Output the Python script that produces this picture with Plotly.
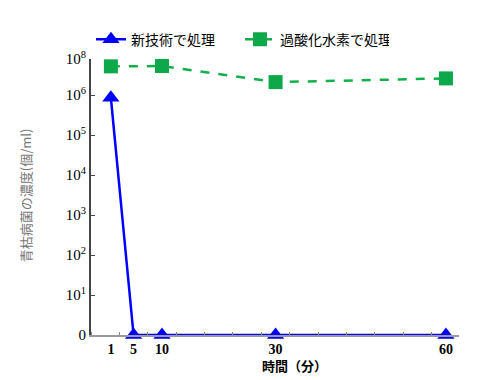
import math
import plotly.graph_objects as go

# Data
times_new = [1, 5, 10, 30, 60]
conc_new = [8.5e5, 0, 0, 0, 0]          # 新技術で処理 (個/ml)
times_h2o2 = [1, 10, 30, 60]
conc_h2o2 = [5.2e6, 5.3e6, 2.1e6, 2.6e6]  # 過酸化水素で処理 (個/ml)

x_tick_vals = [1, 5, 10, 30, 60]
x_tick_text = ["<b>1</b>", "<b>5</b>", "<b>10</b>", "<b>30</b>", "<b>60</b>"]
y_tick_vals = [0, 1, 2, 3, 4, 5, 6, 6.9]
y_tick_text = ["0", "10<sup>1</sup>", "10<sup>2</sup>", "10<sup>3</sup>",
               "10<sup>4</sup>", "10<sup>5</sup>", "10<sup>6</sup>", "10<sup>8</sup>"]


def to_log(vals):
    return [math.log10(v) if v > 0 else 0 for v in vals]


jp = "Noto Sans CJK JP"
serif = "Liberation Serif"

fig = go.Figure()
fig.add_trace(go.Scatter(
    x=times_new, y=to_log(conc_new), name="新技術で処理",
    mode="lines+markers", cliponaxis=False,
    line=dict(color="#0000ff", width=2.5),
    marker=dict(symbol="triangle-up", size=15, color="#0000ff"),
))
fig.add_trace(go.Scatter(
    x=times_h2o2, y=to_log(conc_h2o2), name="過酸化水素で処理",
    mode="lines+markers", cliponaxis=False,
    line=dict(color="#12b04a", width=2.5, dash="dash"),
    marker=dict(symbol="square", size=14, color="#0ca84a"),
))

fig.update_layout(
    width=484, height=372,
    margin=dict(l=83, r=33, t=51, b=45),
    paper_bgcolor="white", plot_bgcolor="white",
    showlegend=True,
    legend=dict(orientation="h", x=0.0, xanchor="left", y=1.07, yanchor="middle",
                font=dict(family=jp, size=14, color="black"),
                itemwidth=30, entrywidth=104, entrywidthmode="pixels",
                tracegroupgap=0, bgcolor="rgba(0,0,0,0)"),
    xaxis=dict(range=[-2.5, 62.3], tickmode="array", tickvals=x_tick_vals,
               ticktext=x_tick_text, ticks="", showgrid=False, zeroline=False,
               showline=True, linecolor="#9a9a9a", linewidth=2,
               tickfont=dict(family=serif, size=14, color="black"),
               minor=dict(tickmode="array",
                          tickvals=[-2.5 + 5 * k for k in range(14)],
                          ticks="inside", ticklen=3, tickcolor="#888", tickwidth=1,
                          showgrid=False)),
    yaxis=dict(range=[0, 6.9], tickmode="array", tickvals=y_tick_vals,
               ticktext=y_tick_text, ticks="inside", ticklen=4, tickcolor="#444",
               showgrid=False, zeroline=False, showline=True,
               linecolor="#444", linewidth=2,
               tickfont=dict(family=serif, size=15, color="black")),
    annotations=[
        dict(text="<b>時間（分）</b>", xref="paper", yref="paper", x=0.552, y=-0.112,
             xanchor="center", yanchor="middle", showarrow=False,
             font=dict(family=jp, size=13, color="black")),
        dict(text="青枯病菌の濃度(個/ml)", xref="paper", yref="paper",
             x=-0.179, y=0.507, xanchor="center", yanchor="middle",
             textangle=-90, showarrow=False,
             font=dict(family=jp, size=13, color="#777777")),
    ],
)

fig.write_html("out.html")
